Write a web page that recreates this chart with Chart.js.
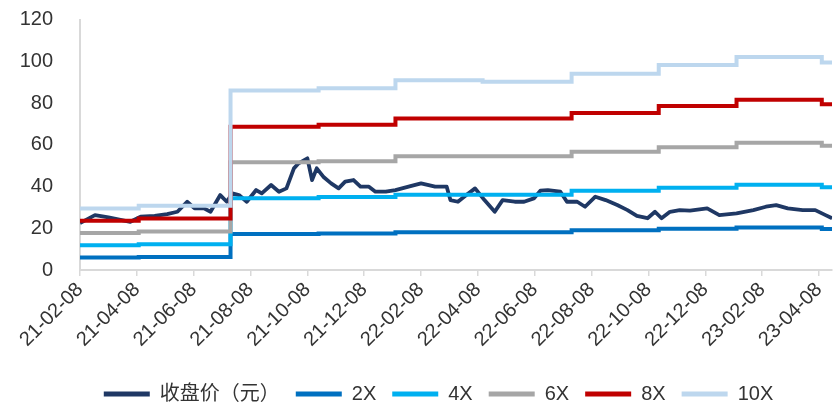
<!DOCTYPE html>
<html><head><meta charset="utf-8">
<script src="https://cdn.jsdelivr.net/npm/chart.js@4.4.1/dist/chart.umd.min.js"></script>
<style>html,body{margin:0;padding:0;background:#fff}#wrap{width:838px;height:404px}</style>
</head><body><div id="wrap"><canvas id="c" width="838" height="404"></canvas></div>
<script>
// ---- data ----
const xTickLabels = ['21-02-08','21-04-08','21-06-08','21-08-08','21-10-08','21-12-08','22-02-08','22-04-08','22-06-08','22-08-08','22-10-08','22-12-08','23-02-08','23-04-08'];
const xEnd = '23-04-22';
const yTicks = [0,20,40,60,80,100,120];

const priceDates = ['21-02-08','21-02-24','21-03-08','21-03-21','21-04-01','21-04-12','21-04-27','21-05-10','21-05-21','21-06-01','21-06-09','21-06-19','21-06-26','21-07-06','21-07-13','21-07-19','21-07-26','21-08-04','21-08-14','21-08-20','21-08-30','21-09-08','21-09-16','21-09-24','21-09-29','21-10-08','21-10-13','21-10-18','21-10-25','21-11-03','21-11-11','21-11-18','21-11-27','21-12-04','21-12-13','21-12-20','21-12-31','22-01-11','22-01-25','22-02-08','22-02-23','22-03-05','22-03-09','22-03-17','22-03-26','22-04-05','22-04-15','22-04-26','22-05-04','22-05-17','22-05-27','22-06-07','22-06-14','22-06-22','22-07-05','22-07-12','22-07-23','22-08-01','22-08-12','22-08-23','22-09-05','22-09-16','22-09-26','22-10-07','22-10-15','22-10-22','22-10-31','22-11-11','22-11-22','22-12-10','22-12-23','23-01-11','23-01-29','23-02-12','23-02-23','23-03-05','23-03-21','23-04-04','23-04-15','23-04-22'];
const priceValues = [22.5,26.3,25.2,24.0,23.1,25.5,25.9,26.8,27.9,32.7,29.5,29.5,27.9,35.9,32.7,36.7,35.9,32.7,38.3,36.7,40.7,37.5,39.1,48.7,51.1,53.5,43.1,48.7,44.7,41.5,39.1,42.3,43.1,39.9,39.9,37.5,37.5,38.3,39.9,41.5,39.9,39.9,33.5,32.7,35.9,39.1,33.5,27.9,33.5,32.7,32.7,34.3,38.0,38.3,37.5,32.7,32.7,30.3,35.1,33.5,31.1,28.7,25.9,24.8,27.9,24.8,27.9,28.7,28.4,29.5,26.3,27.1,28.7,30.3,31.1,29.5,28.7,28.7,26.3,24.8];

const bandDates = ['21-02-08','21-04-10','21-07-17','21-10-20','22-01-11','22-04-13','22-07-17','22-10-19','23-01-11','23-04-11','23-04-22'];
const band2X  = [6.0, 6.2, 17.2, 17.5, 18.1, 18.1, 19.0, 19.8, 20.3, 19.7, 19.7];
const band4X  = [11.8, 12.3, 34.4, 35.0, 36.1, 36.1, 38.0, 39.4, 40.8, 39.6, 39.6];
const band6X  = [17.7, 18.5, 51.6, 52.1, 54.5, 54.5, 56.6, 58.8, 61.0, 59.5, 59.5];
const band8X  = [23.6, 24.7, 68.6, 69.6, 72.6, 72.6, 75.2, 78.6, 81.6, 79.4, 79.4];
const band10X = [29.5, 30.8, 86.0, 87.1, 90.9, 90.2, 94.0, 98.2, 102.0, 99.4, 99.4];

const seriesNames = ['收盘价（元）','2X','4X','6X','8X','10X'];
const seriesColors = ['#1F3864','#0070C0','#00B0F0','#A6A6A6','#C00000','#BDD7EE'];

// ---- helpers ----
function toX(s){const p=s.split('-').map(Number);return (p[0]-21)*12+(p[1]-2)+(p[2]-8)/30.4;}
const tickPos = xTickLabels.map(toX);
function pts(dates, vals){return dates.map((d,i)=>({x:toX(d),y:vals[i]}));}

const bands=[band2X,band4X,band6X,band8X,band10X];
const datasets=[{
  label:seriesNames[0], data:pts(priceDates,priceValues), borderColor:seriesColors[0], backgroundColor:seriesColors[0],
  borderWidth:3.8, pointRadius:0, tension:0, order:6, borderJoinStyle:'round'
}];
bands.forEach((b,i)=>{
  datasets.push({label:seriesNames[i+1], data:pts(bandDates,b), borderColor:seriesColors[i+1], backgroundColor:seriesColors[i+1],
    borderWidth:4, pointRadius:0, stepped:true, order:5-i});
});

const PAD_BOTTOM=-10, PLOT_LEFT=80, PLOT_BOTTOM=270, CANVAS_H=404, LEGEND_SHIFT=20.5;
const font='"Liberation Sans", Arial, sans-serif';
const legendShift={id:'legendShift',afterLayout(chart){const l=chart.legend;if(l){l.left+=LEGEND_SHIFT;l.right+=LEGEND_SHIFT;}}};
new Chart(document.getElementById('c'),{
  type:'line',
  data:{datasets},
  plugins:[legendShift],
  options:{
    responsive:false, animation:false, devicePixelRatio:1,
    layout:{padding:{top:19.5,right:2,left:0,bottom:PAD_BOTTOM}},
    plugins:{
      tooltip:{enabled:false},
      legend:{
        position:'bottom',
        labels:{
          font:{family:'"Liberation Sans","Noto Sans CJK SC", sans-serif',size:20},
          color:'#333', boxWidth:46, boxHeight:5, padding:16, useBorderRadius:true, borderRadius:2.5,
          sort:(a,b)=>a.datasetIndex-b.datasetIndex,
          generateLabels:(chart)=>chart.data.datasets.map((ds,i)=>({text:ds.label,fillStyle:ds.borderColor,strokeStyle:ds.borderColor,lineWidth:0,hidden:false,datasetIndex:i,fontColor:'#333'}))
        }
      }
    },
    scales:{
      x:{
        type:'linear', min:0, max:toX(xEnd),
        afterBuildTicks:(s)=>{s.ticks=tickPos.map(v=>({value:v}));},
        afterFit:(s)=>{const lh=(s.chart.legend&&s.chart.legend.height)||0; s.height=CANVAS_H-PAD_BOTTOM-lh-PLOT_BOTTOM;},
        ticks:{autoSkip:false, minRotation:45, maxRotation:45, padding:2, color:'#333',
          font:{family:font,size:20},
          callback:(v,i)=>xTickLabels[i]},
        grid:{display:true, drawOnChartArea:false, drawTicks:true, tickLength:6, color:'#D9D9D9', lineWidth:1.5},
        border:{display:true,color:'#D9D9D9',width:2}
      },
      y:{
        min:0, max:120,
        afterBuildTicks:(s)=>{s.ticks=yTicks.map(v=>({value:v}));},
        afterFit:(s)=>{s.width=PLOT_LEFT; s.paddingTop=0; s.paddingBottom=0;},
        ticks:{padding:27, color:'#333', font:{family:font,size:20}},
        grid:{display:false, drawTicks:false},
        border:{display:true,color:'#D9D9D9',width:2}
      }
    }
  }
});
</script></body></html>
